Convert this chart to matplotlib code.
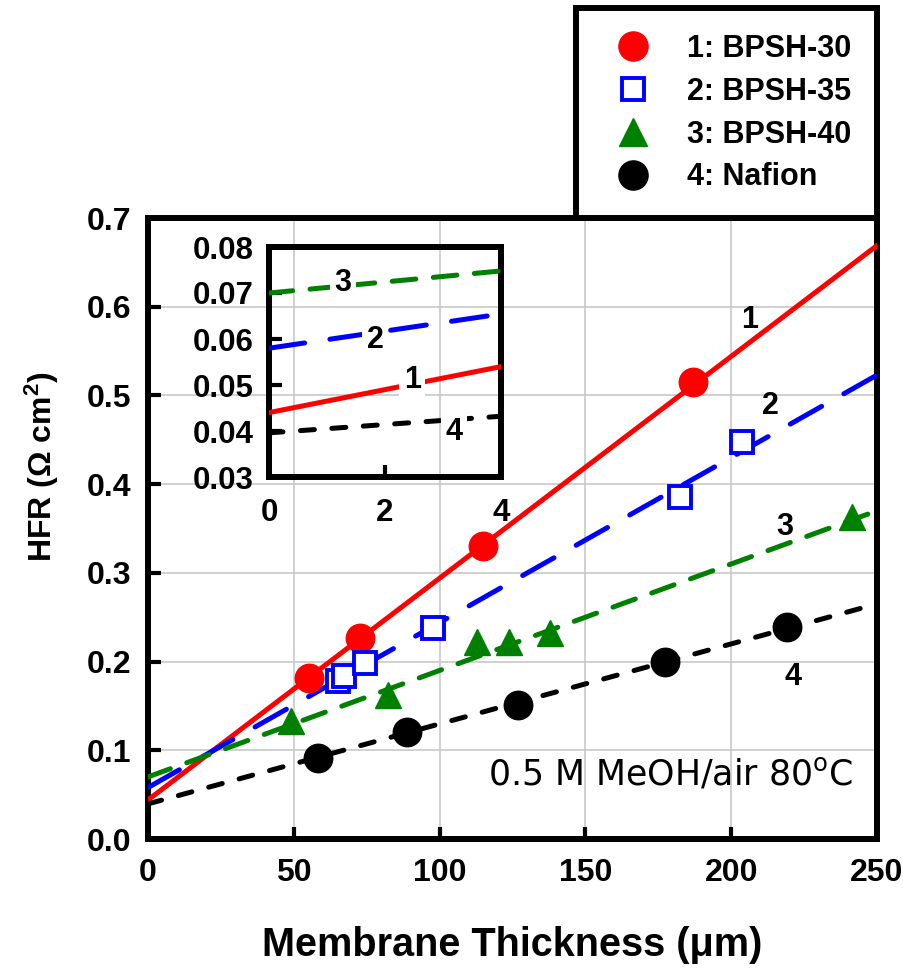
import matplotlib
matplotlib.use('Agg')
import matplotlib.pyplot as plt
from matplotlib.lines import Line2D
from matplotlib.ticker import FormatStrFormatter

plt.rcParams['font.family'] = ['Liberation Sans', 'DejaVu Sans']
plt.rcParams['font.weight'] = 'bold'
plt.rcParams['axes.labelweight'] = 'bold'
plt.rcParams['mathtext.default'] = 'regular'

# ---------------- data ----------------
bpsh30_x = [55.2, 72.7, 114.9, 186.9]
bpsh30_y = [0.181, 0.227, 0.330, 0.515]
bpsh35_x = [65.0, 67.2, 74.4, 97.9, 182.4, 203.7]
bpsh35_y = [0.178, 0.184, 0.198, 0.238, 0.386, 0.448]
bpsh40_x = [48.9, 82.4, 112.7, 123.9, 137.9, 241.3]
bpsh40_y = [0.133, 0.162, 0.222, 0.222, 0.232, 0.363]
nafion_x = [58.2, 88.8, 126.8, 177.3, 219.3]
nafion_y = [0.091, 0.121, 0.151, 0.200, 0.239]

fit_x = [0, 250]
fit1_y = [0.044, 0.669]
fit2_y = [0.058, 0.523]
fit3_y = [0.070, 0.370]
fit4_y = [0.0396, 0.265]

legend_labels = ['1: BPSH-30', '2: BPSH-35', '3: BPSH-40', '4: Nafion']
line_tags = ['1', '2', '3', '4']
main_tag_x = [206.4, 213.3, 218.4, 221.2]
main_tag_y = [0.585, 0.488, 0.352, 0.183]
inset_tag_x = [2.47, 1.83, 1.28, 3.19]
inset_tag_y = [0.0511, 0.0598, 0.0722, 0.0398]

xticks = [0, 50, 100, 150, 200, 250]
yticks = [0.0, 0.1, 0.2, 0.3, 0.4, 0.5, 0.6, 0.7]
inset_xticks = [0, 2, 4]
inset_yticks = [0.03, 0.04, 0.05, 0.06, 0.07, 0.08]

condition_text = '0.5 M MeOH/air 80$^\\mathregular{o}$C'

# ---------------- styles ----------------
RED, BLUE, GREEN, BLACK = '#ff0000', '#0000ff', '#008000', '#000000'
LW = 3.6
styles = [
    dict(color=RED, ls='-'),
    dict(color=BLUE, ls=(0, (7.2, 5.1))),
    dict(color=GREEN, ls=(0, (4.75, 3.5))),
    dict(color=BLACK, ls=(0, (2.8, 3.5))),
]
fits = [fit1_y, fit2_y, fit3_y, fit4_y]

fig = plt.figure(figsize=(9.04, 9.71), dpi=100)
W, H = 904, 971
ax = fig.add_axes([148 / W, 1 - 839 / H, 729 / W, 621 / H])

ax.grid(True, color='#c8c8c8', lw=1.2)
ax.set_axisbelow(True)

for fy, st in zip(fits, styles):
    ax.plot(fit_x, fy, lw=LW, dash_capstyle='round', solid_capstyle='round', zorder=3, **st)

ax.plot(bpsh30_x, bpsh30_y, 'o', ms=20.5, color=RED, zorder=4)
ax.plot(bpsh35_x, bpsh35_y, 's', ms=16, mfc='white', mec=BLUE, mew=2.8, zorder=4)
ax.plot(bpsh40_x, bpsh40_y, '^', ms=19, color=GREEN, zorder=4)
ax.plot(nafion_x, nafion_y, 'o', ms=20.5, color=BLACK, zorder=4)

for t, x, y in zip(line_tags, main_tag_x, main_tag_y):
    ax.text(x, y, t, fontsize=22, ha='center', va='center', zorder=5)

ax.text(241.8, 0.0609, condition_text, family='DejaVu Sans', weight='normal',
        fontsize=25, ha='right', va='baseline', zorder=5)

ax.set_xlim(0, 250)
ax.set_ylim(0, 0.7)
ax.set_xticks(xticks)
ax.set_yticks(yticks)
ax.yaxis.set_major_formatter(FormatStrFormatter('%.1f'))
ax.tick_params(direction='in', length=9, width=3, labelsize=23, top=False, right=False)
ax.tick_params(axis='x', pad=14)
ax.tick_params(axis='y', pad=12)
for sp in ax.spines.values():
    sp.set_linewidth(4.3)

ax.set_xlabel('Membrane Thickness (\u03bcm)', fontsize=28.5, fontweight='bold')
ax.set_ylabel('HFR (\u03a9 cm$^\\mathregular{2}$)', fontsize=23, fontweight='bold')
ax.xaxis.set_label_coords(0.5, -0.14)
ax.yaxis.set_label_coords(-0.12, 0.6)

# ---------------- inset ----------------
axin = fig.add_axes([269 / W, 1 - 477 / H, 232 / W, 230 / H])
axin.set_facecolor('none')
for fy, st in zip(fits, styles):
    axin.plot(fit_x, fy, lw=LW, dash_capstyle='round', solid_capstyle='round', zorder=3, **st)
for t, x, y in zip(line_tags, inset_tag_x, inset_tag_y):
    axin.text(x, y, t, fontsize=22, ha='center', va='center', zorder=5,
              bbox=dict(fc='white', ec='none', pad=3))
axin.set_xlim(0, 4)
axin.set_ylim(0.03, 0.08)
axin.set_xticks(inset_xticks)
axin.set_yticks(inset_yticks)
axin.yaxis.set_major_formatter(FormatStrFormatter('%.2f'))
axin.tick_params(direction='in', length=9, width=3, labelsize=22.5, top=False, right=False)
axin.tick_params(axis='x', pad=15)
axin.tick_params(axis='y', pad=11)
for sp in axin.spines.values():
    sp.set_linewidth(4.3)

# ---------------- legend ----------------
handles = [
    Line2D([], [], ls='none', marker='o', ms=21, color=RED),
    Line2D([], [], ls='none', marker='s', ms=16, mfc='white', mec=BLUE, mew=2.8),
    Line2D([], [], ls='none', marker='^', ms=20, color=GREEN),
    Line2D([], [], ls='none', marker='o', ms=21, color=BLACK),
]
leg = fig.legend(handles, legend_labels, loc='upper right',
                 bbox_to_anchor=(877 / W, 1 - 8 / H), bbox_transform=fig.transFigure,
                 fontsize=22, frameon=True, fancybox=False, framealpha=1,
                 edgecolor='black', handlelength=2.0, handletextpad=0.77,
                 borderpad=0.85, labelspacing=0.42, borderaxespad=0)
leg.get_frame().set_linewidth(4.3)

fig.savefig('out.png', dpi=100)
